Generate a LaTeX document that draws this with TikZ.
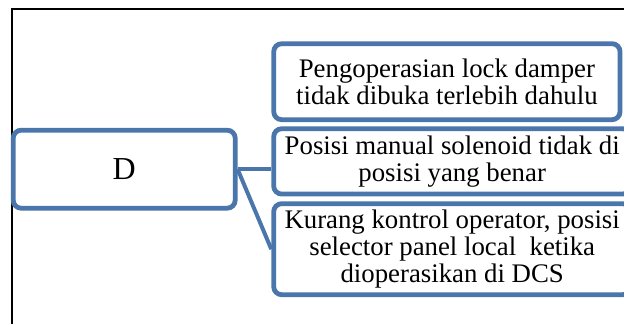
\documentclass[tikz,border=0pt]{standalone}
\usepackage{fontspec}
\setmainfont{Liberation Serif}
\usepackage{xcolor}
\usepackage{tikz}
\usetikzlibrary{positioning,calc}
\definecolor{edge}{HTML}{4A76AC}
\definecolor{frame}{HTML}{000000}

\begin{document}
\begin{tikzpicture}[
  x=1pt, y=-1pt,
  font=\fontsize{26.8}{27}\selectfont,
  rootbox/.style={draw=edge, fill=white, line width=4.8pt, rounded corners=8pt, minimum width=222pt, minimum height=78pt, inner sep=4pt, font=\fontsize{32}{34}\selectfont},
  causebox/.style={draw=edge, fill=white, line width=4.8pt, rounded corners=8pt, minimum width=357pt, inner sep=4pt, align=center},
  link/.style={draw=edge, line width=4pt}
]
\useasboundingbox (0,0) rectangle (624,324);
\clip (0,0) rectangle (624,324);
\draw[frame, line width=2pt] (12,9.3) rectangle (660,360);

\node[rootbox] (d) at (124.2,169.2) {D};
\node[causebox, minimum width=346.3pt, minimum height=76pt] (lock) at (446.9,81.7) {Pengoperasian lock damper\\tidak dibuka terlebih dahulu};
\node[causebox, minimum height=65.3pt] (solenoid) at (452.2,161.4) {Posisi manual solenoid tidak di\\posisi yang benar};
\node[causebox, minimum height=91pt] (selector) at (452.2,249.2) {Kurang kontrol operator, posisi\\selector panel local\ \ ketika\\dioperasikan di DCS};

\draw[link] (d.east) -- (d.east -| solenoid.west);
\draw[link] (d.east) -- (selector.west);
\end{tikzpicture}
\end{document}
